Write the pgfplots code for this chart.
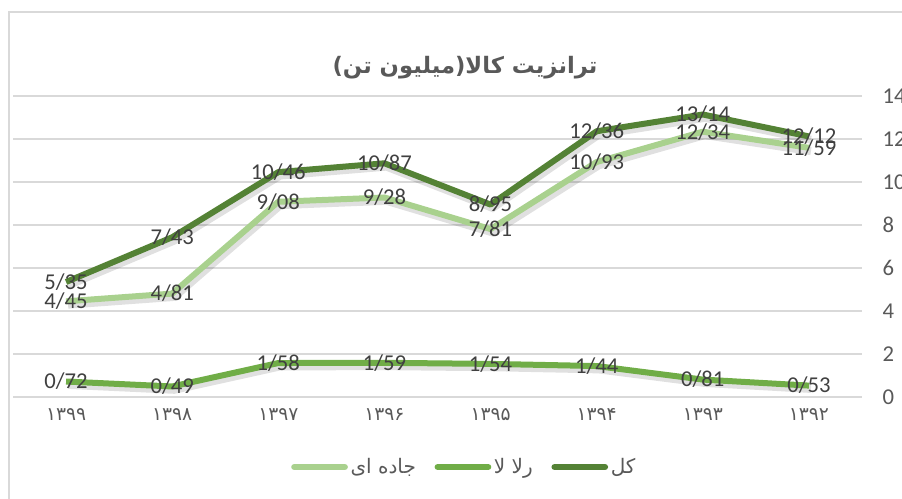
\documentclass[border=0pt]{standalone}
\usepackage{fontspec}
\usepackage{pgfplots}
\usepackage{pgfplotstable}
\pgfplotsset{compat=1.18}
\setmainfont{Carlito}
\newfontfamily\arabicfont[Script=Arabic]{DejaVu Sans}
\TeXXeTstate=1
\definecolor{cTotal}{RGB}{84,130,53}
\definecolor{cRail}{RGB}{112,173,71}
\definecolor{cRoad}{RGB}{169,209,142}
\definecolor{txt}{RGB}{89,89,89}
\definecolor{lbl}{RGB}{64,64,64}
\definecolor{gridc}{RGB}{217,217,217}

\pgfplotstableread{
x y lab
0 5.35 5/35
1 7.43 7/43
2 10.46 10/46
3 10.87 10/87
4 8.95 8/95
5 12.36 12/36
6 13.14 13/14
7 12.12 12/12
}\total
\pgfplotstableread{
x y lab
0 4.45 4/45
1 4.81 4/81
2 9.08 9/08
3 9.28 9/28
4 7.81 7/81
5 10.93 10/93
6 12.34 12/34
7 11.59 11/59
}\road
\pgfplotstableread{
x y lab
0 0.72 0/72
1 0.49 0/49
2 1.58 1/58
3 1.59 1/59
4 1.54 1/54
5 1.44 1/44
6 0.81 0/81
7 0.53 0/53
}\rail

\begin{document}
\begin{tikzpicture}[x=0.75pt,y=0.75pt]
\useasboundingbox (-13,-102) rectangle (889,397);
\draw[gridc, line width=0.9pt] (-4,-200) -- (-4,385) -- (1000,385);
\node[font=\arabicfont\bfseries\fontsize{17}{17}\selectfont, text=txt] at (452,329) {\beginR ترانزیت کالا(میلیون تن)\endR};
\begin{axis}[
  at={(0,0)}, anchor=south west,
  width=636.75pt, height=225.75pt, scale only axis,
  xmin=-0.5, xmax=7.5, ymin=0, ymax=14,
  ytick={0,2,...,14},
  xtick={0,...,7},
  xticklabels={۱۳۹۹,۱۳۹۸,۱۳۹۷,۱۳۹۶,۱۳۹۵,۱۳۹۴,۱۳۹۳,۱۳۹۲},
  xticklabel style={font=\arabicfont\fontsize{14}{14}\selectfont, text=txt, yshift=-5pt},
  yticklabel pos=right,
  /pgf/number format/assume math mode=true,
  yticklabel style={font=\fontsize{17}{17}\selectfont, text=txt, anchor=west, xshift=12pt},
  axis line style={draw=none},
  major tick style={draw=none},
  ymajorgrids, grid style={gridc, line width=0.9pt},
  clip=false,
  legend columns=3,
  legend style={draw=none, fill=none, at={(0.532,-0.2326)}, anchor=center,
    font=\arabicfont\fontsize{15}{15}\selectfont, text=txt,
    /tikz/every even column/.append style={column sep=12pt}},
  legend image code/.code={\draw[#1, line width=4.5pt, line cap=round] (0pt,0pt) -- (38pt,0pt);},
  lbls/.style={draw=none, forget plot, point meta=explicit symbolic,
    nodes near coords={\pgfplotspointmeta},
    every node near coord/.append style={anchor=center, font=\fontsize{17}{17}\selectfont, text=lbl}},
]
% shadows
\addplot[black, opacity=0.12, line width=6pt, xshift=1.5pt, yshift=-2.5pt, forget plot] table[x=x,y=y]{\road};
\addplot[black, opacity=0.12, line width=6pt, xshift=1.5pt, yshift=-2.5pt, forget plot] table[x=x,y=y]{\rail};
\addplot[black, opacity=0.12, line width=6pt, xshift=1.5pt, yshift=-2.5pt, forget plot] table[x=x,y=y]{\total};
% lines
\addplot[cRoad, line width=4.5pt, line join=round] table[x=x,y=y]{\road};
\addlegendentry{\beginR جاده ای\endR}
\addplot[cRail, line width=4.5pt, line join=round] table[x=x,y=y]{\rail};
\addlegendentry{\beginR رلا لا\endR}
\addplot[cTotal, line width=4.5pt, line join=round] table[x=x,y=y]{\total};
\addlegendentry{\beginR کل\endR}
% labels
\addplot[lbls] table[x=x,y=y,meta=lab]{\road};
\addplot[lbls] table[x=x,y=y,meta=lab]{\rail};
\addplot[lbls] table[x=x,y=y,meta=lab]{\total};
\end{axis}
\end{tikzpicture}
\end{document}
